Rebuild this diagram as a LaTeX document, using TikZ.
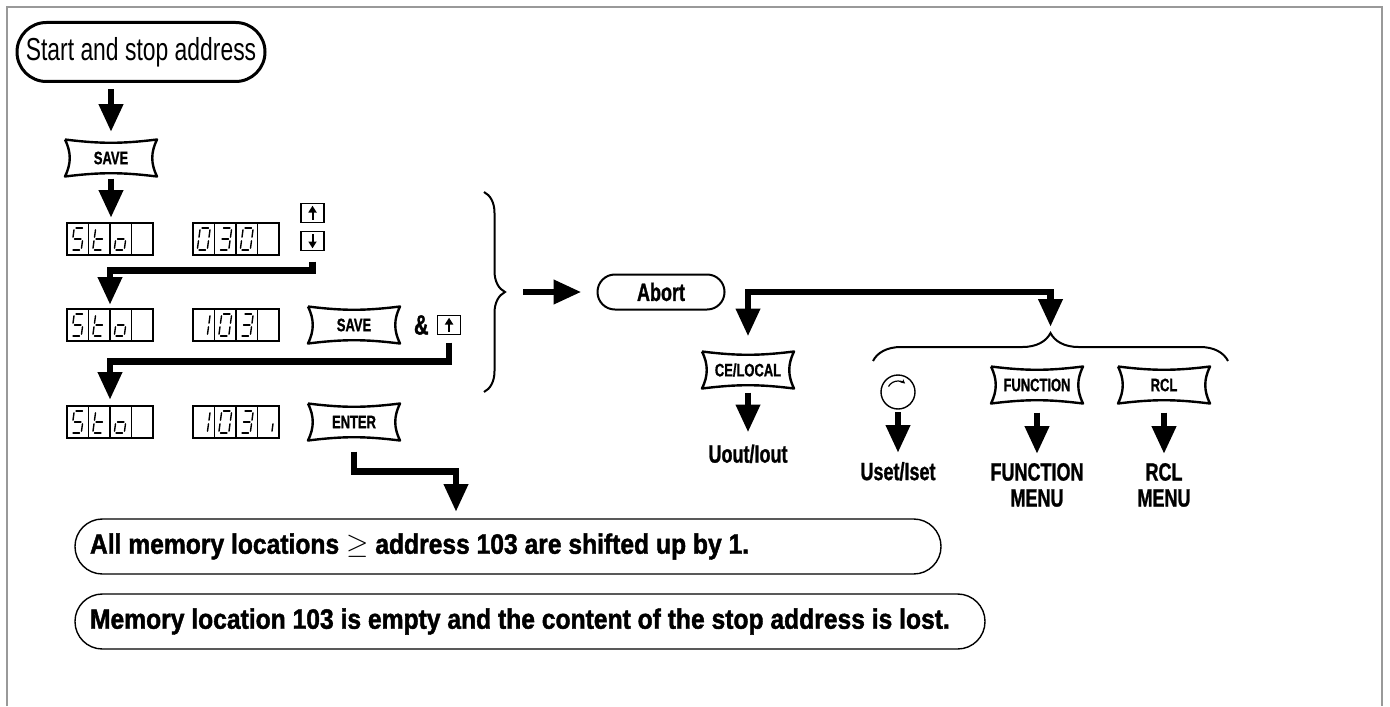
\documentclass[tikz,border=0pt]{standalone}
\usepackage{fontspec}
\setmainfont{Liberation Sans}[FakeStretch=0.72, BoldFeatures={FakeBold=1}]
\newfontfamily\notefamily{Liberation Sans}[FakeStretch=0.88, BoldFeatures={FakeBold=1.5}]
\usetikzlibrary{arrows.meta}
\usetikzlibrary{calc}
\usetikzlibrary{positioning}
\usetikzlibrary{decorations.pathreplacing}

\newcommand{\keyfont}{\fontsize{9}{10}\selectfont\bfseries}
\newcommand{\labelfont}{\fontsize{12.5}{13}\selectfont\bfseries}
\newcommand{\notefont}{\notefamily\fontsize{14}{16}\selectfont\bfseries}

% segments lit for each character of the display
\def\segS{A/B,A/C,C/D,D/F,E/F}
\def\segt{A/C,C/E,E/F,C/D}
\def\sego{C/D,D/F,E/F,C/E}
\def\segzero{A/B,B/D,D/F,E/F,C/E,A/C}
\def\segone{B/D,D/F}
\def\segthree{A/B,B/D,C/D,D/F,E/F}
\def\segdot{D/F}
\newcommand{\digits}[2]{%
  \foreach \ch [count=\k] in {#2} {
    \pgfmathsetmacro\fr{(\k-0.5)/4}
    \pic at ($(#1.west)!\fr!(#1.east)$) {sevenseg=\ch};
  }%
  \foreach \i in {1,2,3} {
    \pgfmathsetmacro\fr{\i/4}
    \draw[cellline] ($(#1.north west)!\fr!(#1.north east)$) -- ($(#1.south west)!\fr!(#1.south east)$);
  }%
}

\begin{document}
\begin{tikzpicture}[
x=0.5pt, y=-0.5pt,
every node/.style={inner sep=0pt, outer sep=0pt},
fat/.style={line width=3.4pt, -{Triangle[length=14pt,width=11.5pt]}},
pill/.style={draw, line width=1pt},
keyline/.style={line width=1.2pt, line join=round},
key/.style={minimum width=46pt, minimum height=18.5pt, font=\keyfont,
  append after command={\pgfextra{\draw[keyline] (\tikzlastnode.north west) to[bend right=7] (\tikzlastnode.north east) to[bend right=26] (\tikzlastnode.south east) to[bend right=7] (\tikzlastnode.south west) to[bend right=26] (\tikzlastnode.north west);}}},
display/.style={draw, line width=0.9pt, minimum width=43pt, minimum height=16pt},
cellline/.style={line width=0.9pt},
segline/.style={line width=0.7pt, line cap=round, shorten <=0.9pt, shorten >=0.9pt},
upkey/.style={draw, line width=0.9pt, minimum width=11.5pt, minimum height=9.5pt,
  path picture={\draw[line width=1pt, -{Triangle[length=3.4pt,width=4pt]}] ([yshift=1.4pt]path picture bounding box.south) -- ([yshift=-1.1pt]path picture bounding box.north);}},
downkey/.style={draw, line width=0.9pt, minimum width=11.5pt, minimum height=9.5pt,
  path picture={\draw[line width=1pt, -{Triangle[length=3.4pt,width=4pt]}] ([yshift=-1.4pt]path picture bounding box.north) -- ([yshift=1.1pt]path picture bounding box.south);}},
note/.style={draw, line width=0.7pt, rounded corners=13.7pt, minimum height=27.5pt, inner xsep=7.5pt, font=\notefont},
bigbrace/.style={decorate, decoration={brace, amplitude=10.5pt}, line width=1pt},
framegray/.style={draw=black!40, line width=1pt},
sevenseg/.pic={
  \coordinate (segA) at (-3.5,-11);
  \coordinate (segB) at (6.5,-11);
  \coordinate (segC) at (-5,0);
  \coordinate (segD) at (5,0);
  \coordinate (segE) at (-6.5,11);
  \coordinate (segF) at (3.5,11);
  \edef\seglist{\csname seg#1\endcsname}
  \foreach \p/\q in \seglist \draw[segline] (seg\p) -- (seg\q);
}
]
\useasboundingbox (0,0) rectangle (1390,706);
\draw[framegray] (7,706) -- (7,7) -- (1382,7) -- (1382,706);

\node[pill, line width=1.5pt, rounded corners=14.7pt, minimum width=124pt, minimum height=29.5pt, font=\fontsize{15.9}{17}\selectfont] (start) at (141,52) {Start and stop address};
\node[key] (save1) at (111,158) {SAVE};

% first display row
\node[display] (sto1) at (110,239) {};
\node[display, right=20pt of sto1] (num1) {};
\node[downkey, right=11pt of num1, yshift=-1pt] (dn1) {};
\node[upkey, above=4.5pt of dn1] (up1) {};
\digits{sto1}{S,t,o}
\digits{num1}{zero,three,zero}

% second display row
\node[display] (sto2) at (110,325) {};
\node[display, right=20pt of sto2] (num2) {};
\node[key, right=14.5pt of num2] (save2) {SAVE};
\node[font=\fontsize{14}{14}\selectfont\bfseries, right=7pt of save2] (amp) {\&};
\node[upkey, right=4.5pt of amp] (up2) {};
\digits{sto2}{S,t,o}
\digits{num2}{one,zero,three}

% third display row
\node[display] (sto3) at (110,422) {};
\node[display, right=20pt of sto3] (num3) {};
\node[key, right=14.5pt of num3] (enter) {ENTER};
\digits{sto3}{S,t,o}
\digits{num3}{one,zero,three,dot}

\draw[fat, shorten <=4pt, shorten >=3.7pt] (save1 |- start.south) -- (save1);
\draw[fat, shorten <=1pt, shorten >=2.5pt] (save1.south) -- (save1.south |- sto1.north);
\draw[fat, shorten <=5.5pt, shorten >=2pt] (dn1.south) -- ++(0,20) -| (sto2.north);
\draw[fat, shorten <=4pt, shorten >=3pt] (up2.south) -- ++(0,27) -| (sto3.north);

% brace and abort
\coordinate (btop) at (484,192);
\coordinate (bbot) at (484,392);
\draw[bigbrace] (btop) -- (bbot);
\coordinate (bracetip) at (505,292);
\node[pill, rounded corners=8.7pt, minimum width=63.5pt, minimum height=17.5pt, font=\fontsize{12.5}{13}\selectfont\bfseries] (abort) at (661,292) {Abort};
\draw[fat, shorten <=9pt, shorten >=8pt] (bracetip) -- (abort);

\node[key] (ce) at (748,370) {CE/LOCAL};
\node[font=\labelfont, below=28pt of ce] (uout) {Uout/Iout};
\draw[fat, shorten <=2pt, shorten >=6pt] (ce) -- (uout);

\coordinate (fl) at (873,361);
\coordinate (fr) at (1228,361);
\draw[bigbrace, decoration={amplitude=14pt}] (fl) -- (fr);
\coordinate (fntip) at (1050.5,333);
\draw[fat, {Triangle[length=14pt,width=11.5pt]}-{Triangle[length=14pt,width=11.5pt]}, shorten <=7.5pt, shorten >=3pt] (ce.north) -- (ce.north |- abort) -| (fntip);

\node[draw, circle, line width=0.7pt, minimum size=17pt,
  path picture={\draw[line width=0.6pt, -{Stealth[length=2.2pt,width=2.2pt]}] ([shift={(150:5.5pt)}]path picture bounding box.center) arc[start angle=150, end angle=50, radius=5.5pt];}] (knob) at (898,392) {};
\node[key] (fnkey) at (1037,385) {FUNCTION};
\node[key] (rclkey) at (1164,385) {RCL};
\node[font=\labelfont, below=26.5pt of knob] (uset) {Uset/Iset};
\node[font=\labelfont, align=center, below=29.8pt of fnkey] (fnmenu) {FUNCTION\\MENU};
\node[font=\labelfont, align=center, below=29.8pt of rclkey] (rclmenu) {RCL\\MENU};
\draw[fat, shorten <=1.5pt, shorten >=4.5pt] (knob) -- (uset);
\draw[fat, shorten <=4.5pt, shorten >=4.5pt] (fnkey) -- (fnmenu);
\draw[fat, shorten <=4.5pt, shorten >=4.5pt] (rclkey) -- (rclmenu);

% results
\node[note] (box1) at (508,546.5) {\makebox[418pt][l]{All memory locations $\geq$ address 103 are shifted up by 1.}};
\node[note] (box2) at (530,621.5) {\makebox[440pt][l]{Memory location 103 is empty and the content of the stop address is lost.}};
\coordinate (drop) at (456,516);
\draw[fat, shorten <=5.5pt, shorten >=2pt] (enter.south) -- ++(0,31) -| (drop);
\end{tikzpicture}
\end{document}
